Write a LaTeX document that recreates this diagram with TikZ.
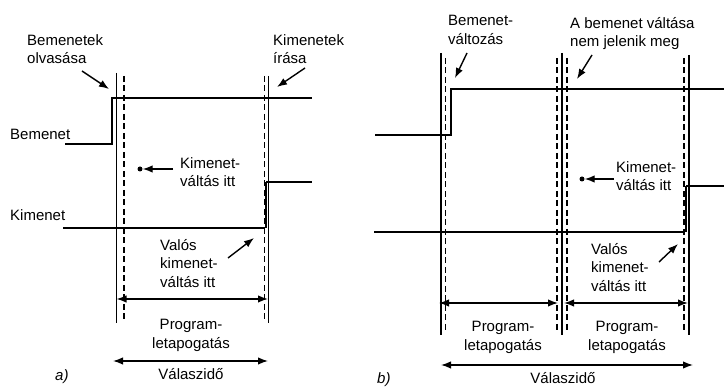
\documentclass[tikz,border=0pt]{standalone}
\usepackage{fontspec}
\setmainfont{Liberation Sans}
\usetikzlibrary{arrows.meta}
\begin{document}
\begin{tikzpicture}[x=1pt,y=-1pt,
  sig/.style={line width=1.5pt},
  solidv/.style={line width=1.6pt},
  dashv/.style={line width=1.4pt, dash pattern=on 6pt off 3.5pt},
  txt/.style={align=left, inner sep=0pt, anchor=north west, font=\fontsize{15}{18.5}\selectfont},
  ctxt/.style={align=center, inner sep=0pt, anchor=north, font=\fontsize{15}{18.5}\selectfont},
  tip/.style={-{Latex[length=10pt,width=7.5pt]}},
  arr/.style={line width=1.4pt, tip},
  darr/.style={line width=1.4pt, {Latex[length=10pt,width=7.5pt]}-{Latex[length=10pt,width=7.5pt]}},
  dot/.style={circle, fill, inner sep=0pt, minimum size=5pt},
]
\path[use as bounding box] (0,0) rectangle (724,387);

% ---------------- panel a) ----------------
\draw[solidv] (116.5,73) -- (116.5,323);
\draw[dashv]  (124,76) -- (124,320);
\draw[dashv]  (264.5,76) -- (264.5,320);
\draw[solidv] (268.5,76) -- (268.5,323);

% input / output signals
\draw[sig] (65,144) -- (112,144) -- (112,98) -- (312,98);
\draw[sig] (63,228) -- (265,228);
\draw[line width=2.6pt] (266,228) -- (266,182);
\draw[sig] (266,182) -- (312,182);

\node[txt] (ra) at (27,34) {Bemenetek\\olvasása};
\node[txt] (wa) at (273,34) {Kimenetek\\írása};
\node[txt] (ina) at (10,129) {Bemenet};
\node[txt] (outa) at (10,209) {Kimenet};
\node[txt] (ka) at (180,157) {Kimenet-\\váltás itt};
\node[txt] (va) at (160,239) {Valós\\kimenet-\\váltás itt};
\node[ctxt] (pa) at (191,319) {Program-\\letapogatás};
\node[ctxt] (rta) at (191,368) {Válaszidő};
\node[txt, font=\fontsize{15}{18}\selectfont\itshape] (la) at (55,369) {a)};

\coordinate (ra1) at (82,71);  \coordinate (ra2) at (109,89);
\coordinate (wa1) at (305,68); \coordinate (wa2) at (277,87);
\coordinate (ka1) at (173,169);
\node[dot] (kda) at (140,169) {};
\coordinate (va1) at (228,258); \coordinate (va2) at (254,238);
\coordinate (pa1) at (116.5,299); \coordinate (pa2) at (268,299);
\coordinate (rta1) at (113,361); \coordinate (rta2) at (268,361);

\draw[arr] (ra1) -- (ra2);
\draw[arr] (wa1) -- (wa2);
\draw[arr] (ka1) -- (kda);
\draw[arr] (va1) -- (va2);
\draw[darr] (pa1) -- (pa2);
\draw[darr] (rta1) -- (rta2);

% ---------------- panel b) ----------------
\draw[solidv] (441,53) -- (441,335);
\draw[dashv]  (445.5,58) -- (445.5,332);
\draw[dashv]  (557,58) -- (557,332);
\draw[solidv] (562,53) -- (562,335);
\draw[dashv]  (567,58) -- (567,332);
\draw[dashv]  (684,58) -- (684,332);
\draw[solidv] (689,55) -- (689,335);

\draw[sig] (375,135) -- (451,135) -- (451,89) -- (724,89);
\draw[sig] (374,232) -- (685,232);
\draw[line width=2.6pt] (686,232) -- (686,186);
\draw[sig] (686,186) -- (724,186);

\node[txt] (cb) at (448,15) {Bemenet-\\változás};
\node[txt] (nb) at (570,17) {A bemenet váltása\\nem jelenik meg};
\node[txt] (kb) at (616,161) {Kimenet-\\váltás itt};
\node[txt] (vb) at (591,243) {Valós\\kimenet-\\váltás itt};
\node[ctxt] (pb1) at (503,321) {Program-\\letapogatás};
\node[ctxt] (pb2) at (627,321) {Program-\\letapogatás};
\node[ctxt] (rtb) at (563,372) {Válaszidő};
\node[txt, font=\fontsize{15}{18}\selectfont\itshape] (lb) at (377,372) {b)};

\coordinate (cb1) at (467,53);  \coordinate (cb2) at (455,78);
\coordinate (nb1) at (592,55);  \coordinate (nb2) at (577,79);
\coordinate (kb1) at (614,179);
\node[dot] (kdb) at (582,179) {};
\coordinate (vb1) at (659,262); \coordinate (vb2) at (678,244);
\coordinate (pb1a) at (439,303); \coordinate (pb1b) at (558,303);
\coordinate (pb2a) at (564,303); \coordinate (pb2b) at (688,303);
\coordinate (rtb1) at (441,365); \coordinate (rtb2) at (693,365);

\draw[arr] (cb1) -- (cb2);
\draw[arr] (nb1) -- (nb2);
\draw[arr] (kb1) -- (kdb);
\draw[arr] (vb1) -- (vb2);
\draw[darr] (pb1a) -- (pb1b);
\draw[darr] (pb2a) -- (pb2b);
\draw[darr] (rtb1) -- (rtb2);
\end{tikzpicture}
\end{document}
